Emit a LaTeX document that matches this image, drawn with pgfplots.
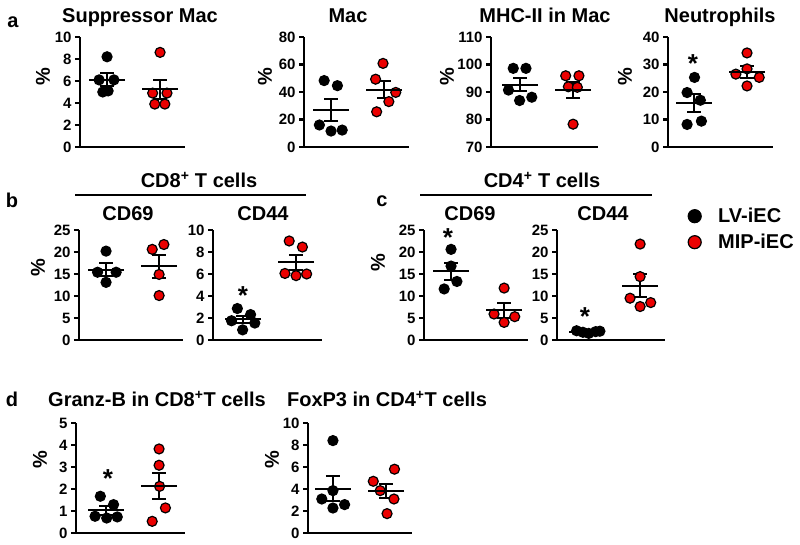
\documentclass[border=0pt]{standalone}
\usepackage{pgfplots}
\pgfplotsset{compat=1.18}
\usepackage{fontspec}
\setmainfont{Liberation Sans}
\newcommand\ft{\fontsize{20}{24}\selectfont\bfseries}
\newcommand\tk{\fontsize{15}{17}\selectfont\bfseries}
\newcommand\astfont{\fontsize{26}{28}\selectfont\bfseries}
\definecolor{mred}{RGB}{235,0,0}
\pgfplotsset{
 panel/.style={scale only axis, width=#1, height=110pt, anchor=south west,
   axis x line=bottom, axis y line=left, axis line style={line width=2.2pt,-},
   xtick=\empty, ytick pos=left, tick align=outside, major tick length=5pt,
   tick style={line width=2.2pt, black}, y tick label style={font=\tk},
   /pgf/number format/assume math mode=true, clip=false},
 blk/.style={forget plot, only marks, mark=*, mark size=5pt, mark options={fill=black, draw=black, line width=1.2pt}},
 rd/.style={forget plot, only marks, mark=*, mark size=5pt, mark options={fill=mred, draw=black, line width=1.2pt}},
 mn/.style={forget plot, black, only marks, mark=-, mark size=18pt, mark options={line width=2pt},
   error bars/.cd, y dir=both, y explicit, error bar style={line width=2pt, black},
   error mark options={rotate=90, mark size=7pt, line width=2pt, black}},
}
\begin{document}
\begin{tikzpicture}[x=1pt,y=1pt]
\useasboundingbox (0,0) rectangle (800,545);
% ---- a1
\begin{axis}[panel=105pt, at={(80pt,398pt)}, xmin=-0.51, xmax=1.47, ymin=0, ymax=10, ytick={0,2,...,10}]
\addplot[blk] coordinates {(0,8.2) (-0.15,6.1) (0.13,6.1) (-0.08,5.0) (0.02,5.1)};
\addplot[rd] coordinates {(1,8.6) (0.86,4.9) (1.13,4.9) (0.9,3.9) (1.09,3.9)};
\addplot[mn] coordinates {(0,6.1) +- (0,0.6)};
\addplot[mn] coordinates {(1,5.25) +- (0,0.85)};
\end{axis}
% ---- a2
\begin{axis}[panel=105pt, at={(304pt,398pt)}, xmin=-0.51, xmax=1.47, ymin=0, ymax=80, ytick={0,20,...,80}]
\addplot[blk] coordinates {(-0.13,48.3) (0.12,44.6) (-0.22,16) (0,11.6) (0.21,12.3)};
\addplot[rd] coordinates {(0.98,60.8) (0.84,49.3) (1.22,39.7) (1.09,33) (0.86,25.6)};
\addplot[mn] coordinates {(0,26.6) +- (0,8)};
\addplot[mn] coordinates {(1,41.7) +- (0,6.3)};
\end{axis}
% ---- a3
\begin{axis}[panel=107pt, at={(491pt,398pt)}, xmin=-0.55, xmax=1.47, ymin=70, ymax=110, ytick={70,80,...,110}]
\addplot[blk] coordinates {(-0.13,98.6) (0.11,98.6) (-0.22,90.7) (0.22,88.1) (-0.01,86.9)};
\addplot[rd] coordinates {(0.86,95.9) (1.11,95.9) (0.91,91.9) (1.08,91.7) (1,78.3)};
\addplot[mn] coordinates {(0,92.6) +- (0,2.4)};
\addplot[mn] coordinates {(1,90.7) +- (0,2.9)};
\end{axis}
% ---- a4
\begin{axis}[panel=105pt, at={(668pt,398pt)}, xmin=-0.49, xmax=1.49, ymin=0, ymax=40, ytick={0,10,...,40}]
\addplot[blk] coordinates {(0.01,25.3) (-0.13,19.8) (0.12,17.0) (0.14,9.4) (-0.13,8.2)};
\addplot[rd] coordinates {(1,34.2) (1,28.4) (0.79,26.5) (1.23,25.3) (1,22.2)};
\addplot[mn] coordinates {(0,15.9) +- (0,3.2)};
\addplot[mn] coordinates {(1,27.3) +- (0,2.2)};
\end{axis}
% ---- b1
\begin{axis}[panel=104pt, at={(79pt,205pt)}, xmin=-0.51, xmax=1.45, ymin=0, ymax=25, ytick={0,5,...,25}]
\addplot[blk] coordinates {(0,20.2) (-0.16,15.4) (0.19,15.4) (0,13.1)};
\addplot[rd] coordinates {(1.09,21.7) (0.87,20.6) (1,14.9) (1,10.1)};
\addplot[mn] coordinates {(0,16.0) +- (0,1.5)};
\addplot[mn] coordinates {(1,16.8) +- (0,2.6)};
\end{axis}
% ---- b2
\begin{axis}[panel=109pt, at={(213pt,205pt)}, xmin=-0.57, xmax=1.49, ymin=0, ymax=10, ytick={0,2,...,10}]
\addplot[blk] coordinates {(-0.11,2.86) (0.14,2.31) (-0.22,1.75) (0.22,1.54) (-0.01,0.92)};
\addplot[rd] coordinates {(0.87,9.0) (1.12,8.45) (0.79,6.05) (1,5.85) (1.2,6.0)};
\addplot[mn] coordinates {(0,1.88) +- (0,0.3)};
\addplot[mn] coordinates {(1,7.07) +- (0,0.7)};
\end{axis}
% ---- c1
\begin{axis}[panel=104pt, at={(424pt,205pt)}, xmin=-0.51, xmax=1.45, ymin=0, ymax=25, ytick={0,5,...,25}]
\addplot[blk] coordinates {(0,20.6) (0,16.8) (0.11,13.3) (-0.13,11.6)};
\addplot[rd] coordinates {(1,11.8) (0.81,5.9) (1.2,5.3) (1,4.0)};
\addplot[mn] coordinates {(0,15.6) +- (0,2.0)};
\addplot[mn] coordinates {(1,6.75) +- (0,1.7)};
\end{axis}
% ---- c2 (with legend)
\begin{axis}[panel=108pt, at={(557pt,205pt)}, xmin=-0.57, xmax=1.47, ymin=0, ymax=25, ytick={0,5,...,25},
  legend style={at={(1.213,1.2)}, anchor=north west, draw=none, fill=none, inner sep=0pt, font=\ft,
    row sep=10pt, column sep=17pt, nodes={inner sep=0pt}},
  legend cell align=left,
  legend image code/.code={\draw[#1] plot coordinates {(0pt,0pt)};}]
\addplot[blk] coordinates {(-0.2,2.1) (-0.08,1.75) (0.03,1.5) (0.16,1.9) (0.24,2.0)};
\addplot[rd] coordinates {(1,21.8) (1,14.4) (0.81,9.5) (1.2,8.5) (1,7.6)};
\addplot[mn] coordinates {(0,1.85) +- (0,0.15)};
\addplot[mn] coordinates {(1,12.36) +- (0,2.65)};
\addlegendimage{only marks, mark=*, mark size=6.5pt, mark options={fill=black, draw=black, line width=1.2pt}}
\addlegendentry{LV-iEC}
\addlegendimage{only marks, mark=*, mark size=6.5pt, mark options={fill=mred, draw=black, line width=1.2pt}}
\addlegendentry{MIP-iEC}
\end{axis}
% ---- d1
\begin{axis}[panel=109pt, at={(76pt,12pt)}, xmin=-0.57, xmax=1.49, ymin=0, ymax=5, ytick={0,1,...,5}]
\addplot[blk] coordinates {(-0.11,1.67) (0.14,1.29) (-0.21,0.76) (0.01,0.68) (0.21,0.73)};
\addplot[rd] coordinates {(1,3.82) (1,3.08) (1.01,2.12) (1.12,1.14) (0.87,0.53)};
\addplot[mn] coordinates {(0,1.03) +- (0,0.19)};
\addplot[mn] coordinates {(1,2.14) +- (0,0.6)};
\end{axis}
% ---- d2
\begin{axis}[panel=104pt, at={(308pt,12pt)}, xmin=-0.47, xmax=1.49, ymin=0, ymax=10, ytick={0,2,...,10}]
\addplot[blk] coordinates {(0,8.4) (0,3.85) (-0.21,3.09) (0.22,2.58) (0,2.27)};
\addplot[rd] coordinates {(1.16,5.8) (0.76,4.7) (0.89,3.85) (1.15,3.09) (1.02,1.76)};
\addplot[mn] coordinates {(0,4.04) +- (0,1.1)};
\addplot[mn] coordinates {(1,3.84) +- (0,0.65)};
\end{axis}
% ---- texts
\begin{scope}[every node/.style={font=\ft, inner sep=0pt}]
\node[anchor=base] at (13,517) {a};
\node[anchor=base] at (140,522) {Suppressor Mac};
\node[anchor=base] at (348,522) {Mac};
\node[anchor=base] at (545,522) {MHC-II in Mac};
\node[anchor=base] at (720,522) {Neutrophils};
\node[anchor=base] at (12,337) {b};
\node[anchor=base] at (199,357) {CD8\textsuperscript{+} T cells};
\node[anchor=base] at (128,324) {CD69};
\node[anchor=base] at (263,324) {CD44};
\node[anchor=base] at (382,338) {c};
\node[anchor=base] at (542,357) {CD4\textsuperscript{+} T cells};
\node[anchor=base] at (470,324) {CD69};
\node[anchor=base] at (603,324) {CD44};
\node[anchor=base] at (12,138) {d};
\node[anchor=base] at (157,138) {Granz-B in CD8\textsuperscript{+}T cells};
\node[anchor=base] at (387,138) {FoxP3 in CD4\textsuperscript{+}T cells};
\foreach \p in {(43,468),(265,468),(447,468),(625,468),(38,277),(378,282),(40,85),(272,85)}
  \node[rotate=90] at \p {\%};
\foreach \p in {(693,481),(243,249),(448,307),(585,228),(108,66)}
  \node[font=\astfont] at \p {*};
\end{scope}
\draw[line width=2.2pt] (75,350) -- (306,350);
\draw[line width=2.2pt] (420,350) -- (652,350);
\end{tikzpicture}
\end{document}
